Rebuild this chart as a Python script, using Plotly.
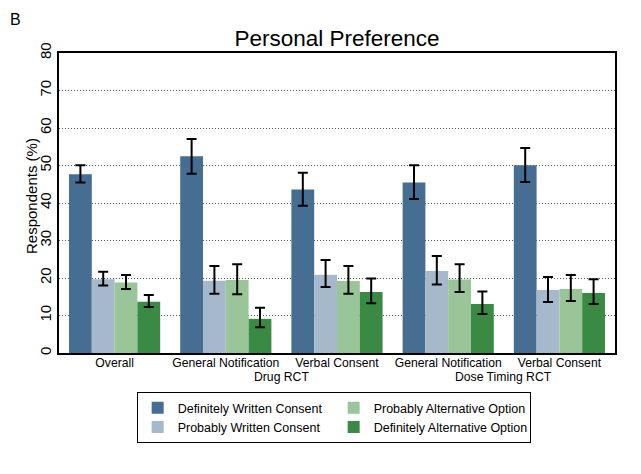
import plotly.graph_objects as go

categories = ["Overall", "General Notification", "Verbal Consent", "General Notification", "Verbal Consent"]
group_labels = ["Drug RCT", "Dose Timing RCT"]
series_names = ["Definitely Written Consent", "Probably Written Consent",
                "Probably Alternative Option", "Definitely Alternative Option"]

dw = [47.7, 52.5, 43.6, 45.5, 50.1]
dw_hi = [50.1, 57.1, 48.1, 50.1, 54.7]
dw_lo = [45.5, 47.8, 39.3, 41.1, 45.6]

pw = [19.7, 19.3, 20.9, 21.9, 16.8]
pw_hi = [21.7, 23.2, 24.8, 25.9, 20.3]
pw_lo = [18.0, 15.8, 17.6, 18.3, 13.6]

pa = [18.8, 19.5, 19.2, 19.6, 17.1]
pa_hi = [20.8, 23.7, 23.2, 23.7, 20.8]
pa_lo = [17.1, 15.7, 15.8, 16.3, 13.9]

da = [13.7, 9.1, 16.3, 13.1, 16.0]
da_hi = [15.5, 12.1, 19.9, 16.4, 19.7]
da_lo = [12.3, 6.9, 13.3, 10.4, 13.1]

y_ticks = [0, 10, 20, 30, 40, 50, 60, 70, 80]

colors = ["#466D92", "#A6B9CC", "#99C598", "#3A8A44"]
ranks = [1, 3, 2, 4]

x = list(range(len(categories)))
fig = go.Figure()
for name, vals, hi, lo, col, rk in zip(series_names, [dw, pw, pa, da], [dw_hi, pw_hi, pa_hi, da_hi],
                                       [dw_lo, pw_lo, pa_lo, da_lo], colors, ranks):
    fig.add_trace(go.Bar(
        x=x, y=vals, name=name, marker=dict(color=col, line=dict(width=0)),
        legendrank=rk,
        error_y=dict(type="data", symmetric=False,
                     array=[h - v for h, v in zip(hi, vals)],
                     arrayminus=[v - l for v, l in zip(vals, lo)],
                     color="black", thickness=2, width=5),
    ))

fig.update_layout(
    width=641, height=474,
    margin=dict(l=59, r=26, t=53, b=121, autoexpand=False),
    paper_bgcolor="white", plot_bgcolor="white",
    font=dict(family="Liberation Sans, Arial, sans-serif", color="black", size=12),
    barmode="group", bargap=0.18, bargroupgap=0.0,
    title=dict(text="Personal Preference", x=0.5, xanchor="center", xref="paper",
               y=1 - 38 / 474, yref="container", yanchor="middle",
               font=dict(size=22.5, color="black")),
    showlegend=True,
    legend=dict(orientation="h", x=0.494, xanchor="center", y=-0.13, yanchor="top",
                bordercolor="black", borderwidth=1, bgcolor="white",
                entrywidth=151, font=dict(size=12.5), tracegroupgap=0,
                traceorder="normal"),
)
fig.update_xaxes(
    tickmode="array", tickvals=x, ticktext=categories, range=[-0.5, 4.5],
    showline=True, linecolor="black", linewidth=1.5, mirror=True, ticks="",
    tickfont=dict(size=12.2), showgrid=False, automargin=False, ticklabelstandoff=-2,
)
fig.update_yaxes(
    range=[0, 80], tickvals=y_ticks, tickangle=-90, tickfont=dict(size=15),
    showline=True, linecolor="black", linewidth=1.5, mirror=True, ticks="",
    showgrid=True, gridcolor="#555555", gridwidth=1, griddash="1px,2px",
    zeroline=False, automargin=False,
)
for xv, lab in zip([1.5, 3.5], group_labels):
    fig.add_annotation(x=xv, y=0, xref="x", yref="paper", yshift=-15, text=lab,
                       showarrow=False, yanchor="top", font=dict(size=12.2))
fig.add_annotation(x=0, y=0.5, xref="paper", yref="paper", xshift=-28, yshift=7,
                   text="Respondents (%)", textangle=-90, showarrow=False,
                   xanchor="center", yanchor="middle", font=dict(size=15))
fig.add_annotation(x=-0.092, y=1 + 33 / 300, xref="paper", yref="paper", text="B",
                   showarrow=False, xanchor="left", yanchor="middle", font=dict(size=16))
fig.write_html("out.html", config={"displayModeBar": False},
               post_script="document.body.style.margin='0';document.body.style.overflow='hidden';")
